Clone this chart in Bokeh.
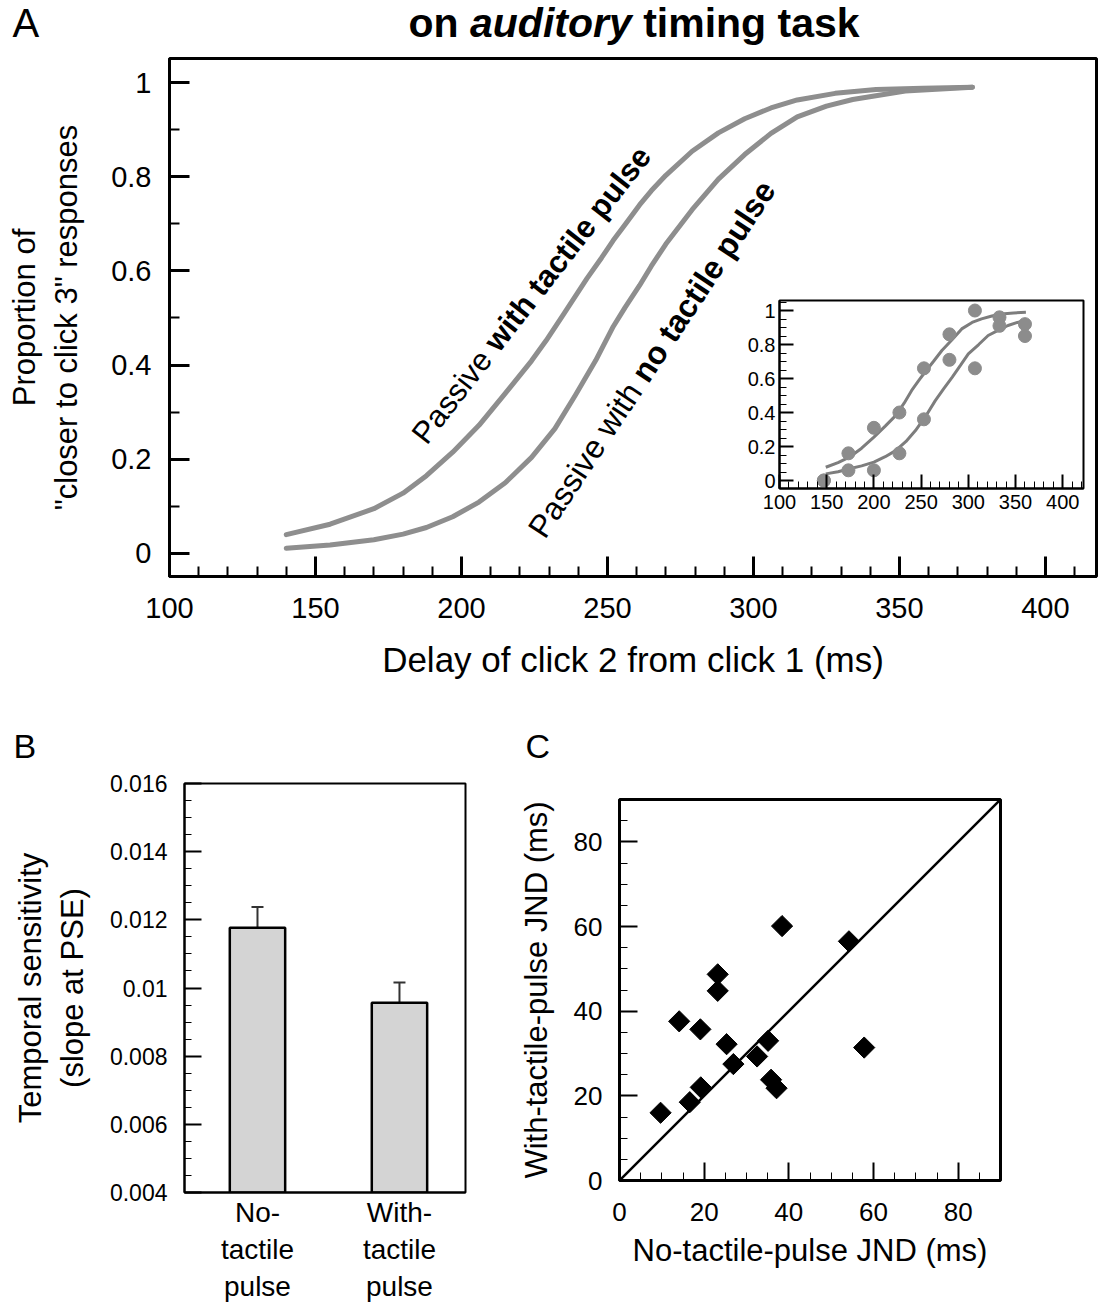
import math
from bokeh.plotting import figure
from bokeh.models import (Range1d, SingleIntervalTicker, FixedTicker, CustomJSTickFormatter,
                          Label, Whisker, TeeHead, ColumnDataSource, Slope, GridBox)
from bokeh.embed import file_html
from bokeh.resources import INLINE

FONT = "Liberation Sans"

# ---------------- data ----------------
# Panel A: fitted psychometric curves
delay_with = [140, 155, 170, 180, 188, 197, 206, 215, 224, 229, 235, 243, 248, 252, 256,
              261, 265, 270, 279, 288, 297, 306, 315, 328, 342, 358, 375]
prop_with = [0.040, 0.062, 0.095, 0.128, 0.165, 0.215, 0.272, 0.340, 0.409, 0.452, 0.508,
             0.584, 0.628, 0.665, 0.698, 0.740, 0.770, 0.803, 0.854, 0.893, 0.923, 0.946,
             0.963, 0.977, 0.985, 0.988, 0.990]
delay_no = [140, 155, 170, 180, 188, 197, 206, 215, 224, 232, 239, 246, 252, 256, 261,
            265, 270, 279, 288, 297, 306, 315, 325, 334, 352, 375]
prop_no = [0.011, 0.018, 0.029, 0.041, 0.055, 0.078, 0.109, 0.150, 0.204, 0.265, 0.336,
           0.410, 0.482, 0.522, 0.569, 0.610, 0.657, 0.730, 0.795, 0.847, 0.892, 0.927,
           0.950, 0.964, 0.982, 0.990]

# Inset: one observer's data and fits
inset_delay = [147, 173, 200, 227, 253, 280, 307, 333, 360]
inset_with = [0.0, 0.16, 0.31, 0.40, 0.66, 0.86, 1.0, 0.96, 0.92]
inset_no = [0.0, 0.06, 0.06, 0.16, 0.36, 0.71, 0.66, 0.91, 0.85]
inset_fit_x_with = [149, 162, 174, 187, 200, 212, 223, 232, 240, 247, 254, 263, 272, 283,
                    293, 304, 314, 325, 335, 348, 361]
inset_fit_y_with = [0.078, 0.105, 0.137, 0.19, 0.255, 0.32, 0.382, 0.455, 0.53, 0.585,
                    0.637, 0.70, 0.765, 0.83, 0.892, 0.93, 0.951, 0.968, 0.98, 0.986, 0.99]
inset_fit_x_no = [149, 162, 174, 187, 200, 212, 223, 234, 244, 255, 265, 274, 283, 292,
                  300, 311, 321, 332, 342, 352, 361]
inset_fit_y_no = [0.039, 0.052, 0.069, 0.086, 0.108, 0.14, 0.176, 0.23, 0.294, 0.38, 0.47,
                  0.54, 0.608, 0.68, 0.745, 0.80, 0.853, 0.885, 0.912, 0.93, 0.941]

# Panel B
conditions = ["No-\ntactile\npulse", "With-\ntactile\npulse"]
sens_mean = [0.01177, 0.00957]
sens_err = [0.00061, 0.00059]

# Panel C
jnd_no_tactile = [9.7, 16.6, 19.2, 14.1, 19.1, 23.2, 23.2, 25.3, 26.9, 32.5, 35.1, 35.8,
                  37.1, 38.4, 54.2, 57.8]
jnd_with_tactile = [16.0, 18.5, 22.0, 37.6, 35.7, 48.7, 44.8, 32.2, 27.5, 29.3, 33.0,
                    23.8, 21.8, 60.1, 56.5, 31.4]

CURVE = "#8e8e8e"


def fmt():
    return CustomJSTickFormatter(code="return Number(tick.toFixed(6)).toString();")


def base_fig(w, h, xr, yr, ml, mr, mt, mb, outline_w):
    p = figure(width=w, height=h, x_range=Range1d(*xr), y_range=Range1d(*yr),
               output_backend="svg", toolbar_location=None, title=None,
               min_border_left=ml, min_border_right=mr, min_border_top=mt,
               min_border_bottom=mb)
    p.xgrid.visible = False
    p.ygrid.visible = False
    p.outline_line_color = "black"
    p.outline_line_width = outline_w
    p.outline_line_alpha = 1
    p.background_fill_color = "white"
    p.border_fill_color = "white"
    return p


def header_fig(w, h, xr, yr):
    p = figure(width=w, height=h, x_range=Range1d(*xr), y_range=Range1d(*yr),
               output_backend="svg", toolbar_location=None, title=None,
               x_axis_type=None, y_axis_type=None, min_border=0)
    p.xgrid.visible = False
    p.ygrid.visible = False
    p.outline_line_color = None
    p.background_fill_alpha = 0
    p.border_fill_alpha = 0
    return p


def style_axis(ax, tick_size, label_size, major_in, minor_in, lw, label_standoff,
               axis_standoff):
    ax.axis_line_color = "black"
    ax.axis_line_width = lw
    ax.major_tick_in = major_in
    ax.major_tick_out = 0
    ax.minor_tick_in = minor_in
    ax.minor_tick_out = 0
    ax.major_tick_line_color = "black"
    ax.major_tick_line_width = lw
    ax.minor_tick_line_color = "black"
    ax.minor_tick_line_width = max(1, lw - 1)
    ax.major_label_text_font = FONT
    ax.major_label_text_font_size = f"{tick_size}px"
    ax.major_label_text_color = "black"
    ax.major_label_standoff = label_standoff
    ax.axis_label_text_font = FONT
    ax.axis_label_text_font_size = f"{label_size}px"
    ax.axis_label_text_font_style = "normal"
    ax.axis_label_text_color = "black"
    ax.axis_label_standoff = axis_standoff


def add_label(p, x, y, text, size, style="normal", angle=0.0, xo=0, yo=0,
              align="left", baseline="middle"):
    p.add_layout(Label(x=x, y=y, text=text, text_font=FONT, text_font_size=f"{size}px",
                       text_font_style=style, angle=angle, x_offset=xo, y_offset=yo,
                       text_align=align, text_baseline=baseline, text_color="black"))


# ---------------- Panel A ----------------
pA = base_fig(1104, 728, (100, 417.5), (-0.049, 1.051), 169, 8, 58, 152, 3)
pA.xaxis.ticker = SingleIntervalTicker(interval=50, num_minor_ticks=5)
pA.yaxis.ticker = SingleIntervalTicker(interval=0.2, num_minor_ticks=2)
pA.yaxis.formatter = fmt()
pA.xaxis.axis_label = "Delay of click 2 from click 1 (ms)"
pA.yaxis.axis_label = 'Proportion of\n"closer to click 3" responses'
style_axis(pA.xaxis[0], 29, 35, 20, 10, 3, 21, 19)
style_axis(pA.yaxis[0], 29, 31, 20, 10, 3, 18, 24)

pA.line(delay_with, prop_with, line_color=CURVE, line_width=5, line_join="round",
        line_cap="round")
pA.line(delay_no, prop_no, line_color=CURVE, line_width=5, line_join="round",
        line_cap="round")

# rotated curve labels
F = 31
a1 = math.radians(52)
x1, y1 = 185.3, 0.242
add_label(pA, x1, y1, "Passive", F, "normal", angle=a1, baseline="alphabetic")
w1 = 3.779 * F
add_label(pA, x1, y1, "with tactile pulse", F, "bold", angle=a1,
          xo=w1 * math.cos(a1), yo=w1 * math.sin(a1), baseline="alphabetic")
F2 = 32
a2 = math.radians(56.5)
x2, y2 = 225.5, 0.041
add_label(pA, x2, y2, "Passive with", F2, "normal", angle=a2, baseline="alphabetic")
w2 = 5.835 * F2
add_label(pA, x2, y2, "no tactile pulse", F2, "bold", angle=a2,
          xo=w2 * math.cos(a2), yo=w2 * math.sin(a2), baseline="alphabetic")

# header with panel letter and mixed-style title (coordinates in screen pixels)
hA = header_fig(1096, 50, (8, 1104), (50, 0))
add_label(hA, 12, 22, "A", 40)
TF = 41
tx = 408
add_label(hA, tx, 22, "on", TF, "bold")
add_label(hA, tx + 1.5 * TF, 22, "auditory", TF, "bold italic")
add_label(hA, tx + (1.5 + 3.945 + 0.278) * TF, 22, "timing task", TF, "bold")

# ---------------- Inset ----------------
pI = base_fig(360, 236, (100, 422), (-0.047, 1.059), 49, 7, 8, 40, 2)
pI.xaxis.ticker = SingleIntervalTicker(interval=50, num_minor_ticks=5)
pI.yaxis.ticker = SingleIntervalTicker(interval=0.2, num_minor_ticks=4)
pI.yaxis.formatter = fmt()
style_axis(pI.xaxis[0], 20, 20, 14, 7, 2, 6, 0)
style_axis(pI.yaxis[0], 20, 20, 14, 7, 2, 4, 0)
pI.line(inset_fit_x_with, inset_fit_y_with, line_color="#7d7d7d", line_width=3)
pI.line(inset_fit_x_no, inset_fit_y_no, line_color="#7d7d7d", line_width=3)
pI.scatter(inset_delay, inset_with, size=13, fill_color="#8c8c8c", line_color="#8c8c8c")
pI.scatter(inset_delay, inset_no, size=13, fill_color="#8c8c8c", line_color="#8c8c8c")

# ---------------- Panel B ----------------
pB = base_fig(500, 576, (-0.514, 1.465), (0.004, 0.016), 176, 43, 55, 112, 2)
xs = list(range(len(conditions)))
srcB = ColumnDataSource(dict(x=xs, top=sens_mean,
                             upper=[m + e for m, e in zip(sens_mean, sens_err)]))
pB.vbar(x="x", top="top", bottom=0, width=0.39, fill_color="#d4d4d4",
        line_color="black", line_width=2.5, source=srcB)
pB.add_layout(Whisker(base="x", lower="top", upper="upper", source=srcB,
                      dimension="height", line_color="#333333", line_width=2,
                      upper_head=TeeHead(size=12, line_color="#333333", line_width=2),
                      lower_head=None))
pB.xaxis.ticker = FixedTicker(ticks=xs)
pB.xaxis.major_label_overrides = {i: c for i, c in zip(xs, conditions)}
pB.yaxis.ticker = SingleIntervalTicker(interval=0.002, num_minor_ticks=4)
pB.yaxis.formatter = fmt()
pB.yaxis.axis_label = "Temporal sensitivity\n(slope at PSE)"
style_axis(pB.xaxis[0], 28, 28, 0, 0, 2, 4, 0)
style_axis(pB.yaxis[0], 23, 31, 17, 7, 2, 17, 17)

# ---------------- Panel C ----------------
pC = base_fig(596, 540, (0, 90), (0, 90), 111, 104, 55, 104, 3)
pC.add_layout(Slope(gradient=1, y_intercept=0, line_color="black", line_width=2.5))
pC.scatter(jnd_no_tactile, jnd_with_tactile, marker="square", angle=math.pi / 4,
           size=15, fill_color="black", line_color="black")
pC.xaxis.ticker = SingleIntervalTicker(interval=20, num_minor_ticks=4)
pC.yaxis.ticker = SingleIntervalTicker(interval=20, num_minor_ticks=4)
pC.xaxis.axis_label = "No-tactile-pulse JND (ms)"
pC.yaxis.axis_label = "With-tactile-pulse JND (ms)"
style_axis(pC.xaxis[0], 26, 31, 18, 8, 2, 22, 9)
style_axis(pC.yaxis[0], 26, 31, 18, 8, 2, 17, 17)

# header for panels B and C
hBC = header_fig(1096, 50, (8, 1104), (778, 728))
add_label(hBC, 13, 745, "B", 34)
add_label(hBC, 525, 745, "C", 34)

# ---------------- page grid (every plot gets its own grid lines) ----------------
rows = ["0px", "50px", "242px", "236px", "200px", "0px", "16px", "34px", "506px", "20px"]
cols = ["8px", "0px", "0px", "0px", "500px", "222px", "360px", "14px", "0px", "0px", "0px"]
page = GridBox(children=[(pA, 0, 0, 5, 8),
                         (pI, 3, 6, 1, 1),
                         (pB, 5, 4, 5, 1),
                         (pC, 7, 5, 2, 6),
                         (hA, 1, 2, 1, 7),
                         (hBC, 6, 3, 2, 7)],
               rows=rows, cols=cols)

open("out.html", "w").write(file_html(page, INLINE))
